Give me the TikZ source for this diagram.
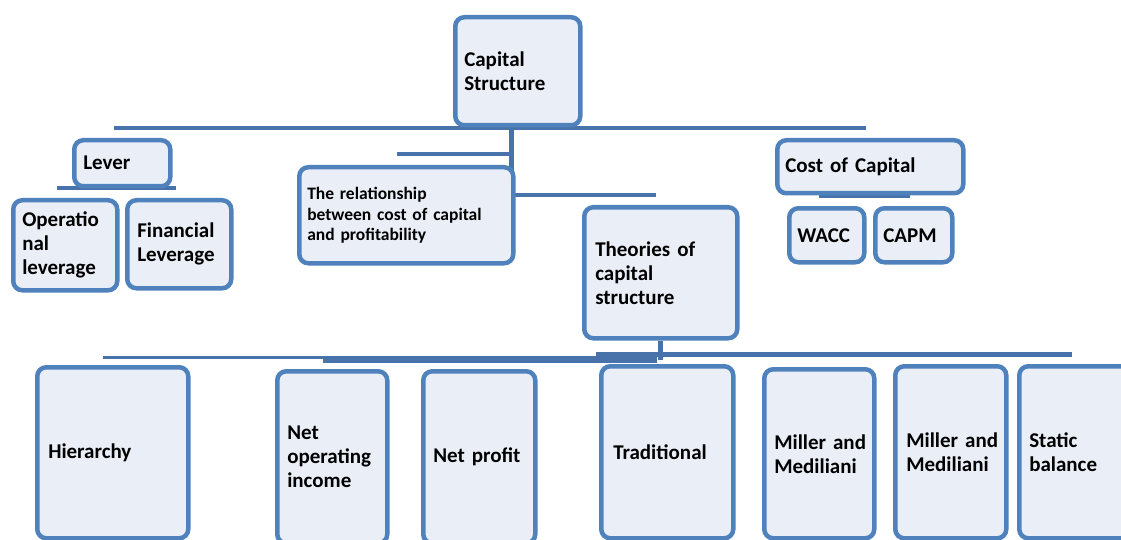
\documentclass[tikz,border=0pt]{standalone}
\usepackage{fontspec}
\setmainfont{Carlito}[WordSpace=0.85]
\usetikzlibrary{positioning,backgrounds}

\definecolor{boxblue}{RGB}{79,129,189}
\definecolor{boxfill}{RGB}{234,239,247}
\definecolor{linkblue}{RGB}{72,114,170}

\tikzset{
  box/.style={draw=boxblue, fill=boxfill, line width=4.5pt, rounded corners=9pt,
    anchor=north west, align=left, inner ysep=0pt,
    font=\bfseries\fontsize{21}{24}\selectfont},
  smallbox/.style={box, font=\bfseries\fontsize{17.5}{20.5}\selectfont},
  link/.style={draw=linkblue, line width=4.5pt},
}

\begin{document}
\begin{tikzpicture}[x=1pt,y=-1pt]
  \useasboundingbox (0,0) rectangle (1121,540);
  \clip (0,0) rectangle (1121,540);

  % top
  \node[box, text width=107pt, inner xsep=9pt, minimum height=108pt] (cap) at (453,15) {Capital\\Structure};

  % lever branch
  \node[box, text width=78pt, inner xsep=9pt, minimum height=46pt] (lev) at (72,138) {Lever};
  \node[box, text width=86pt, inner xsep=9pt, minimum height=90pt] (oper) at (11,198) {Operatio\\nal\\leverage};
  \node[box, text width=84pt, inner xsep=10pt, minimum height=88pt] (fin) at (125,198) {Financial\\Leverage};

  % middle
  \node[smallbox, text width=198pt, inner xsep=8pt, minimum height=96pt] (rel) at (297,165) {The relationship\\between~cost~of~capital\\and profitability};
  \node[box, text width=131pt, inner xsep=11pt, minimum height=131pt] (theo) at (582,205) {Theories~of\\capital\\structure};

  % cost of capital branch
  \node[box, text width=170pt, inner xsep=8pt, minimum height=53pt] (coc) at (775,138) {Cost~of~Capital};
  \node[box, text width=59pt, inner xsep=8pt, minimum height=54pt] (wacc) at (787,206) {WACC};
  \node[box, text width=61pt, inner xsep=8pt, minimum height=54pt] (capm) at (873,206) {CAPM};

  % theories
  \node[box, text width=129pt, inner xsep=11pt, minimum height=171pt] (hier) at (35,365) {Hierarchy};
  \node[box, text width=90pt, inner xsep=10pt, minimum height=172pt] (noi) at (275,369) {Net\\operating\\income};
  \node[box, text width=92pt, inner xsep=10pt, minimum height=172pt] (np) at (421,369) {Net~profit};
  \node[box, text width=108pt, inner xsep=12pt, minimum height=172pt] (trad) at (599,364) {Traditional};
  \node[box, text width=90pt, inner xsep=10pt, minimum height=169pt] (mm1) at (762,367) {Miller~and\\Mediliani};
  \node[box, text width=89pt, inner xsep=11pt, minimum height=172pt] (mm2) at (893,364) {Miller~and\\Mediliani};
  \node[box, text width=93pt, inner xsep=10pt, minimum height=172pt] (stat) at (1017,364) {Static\\balance};

  \begin{scope}[on background layer]
    \coordinate (topL) at (114,128);
    \coordinate (topR) at (866,128);
    \coordinate (hub) at (511,128);
    \coordinate (stubL) at (397,154);
    \coordinate (midL) at (511,195);
    \coordinate (midR) at (656,195);
    \coordinate (levL) at (57,188);
    \coordinate (levR) at (176,188);
    \coordinate (cocL) at (819,196);
    \coordinate (cocR) at (910,196);
    \coordinate (botL) at (103,357.5);
    \coordinate (botM) at (323,359.5);
    \coordinate (botN) at (657,359.5);
    \coordinate (botS) at (596,354);
    \coordinate (botR) at (1072,354);

    \draw[link] (topL) -- (topR);
    \draw[link, line width=5pt] (cap.south -| hub) -- (hub) -- (midL);
    \draw[link] (stubL) -- (stubL -| hub);
    \draw[link] (midL) -- (midR);

    \draw[link] (levL) -- (levR);
    \draw[link, line width=6pt] (lev.south) -- (lev.south |- levL);

    \draw[link] (cocL) -- (cocR);
    \draw[link, line width=6pt] (coc.south) -- (coc.south |- cocL);

    \draw[link, line width=5pt] (theo.south) -- (theo.south |- botN);
    \draw[link, line width=3.5pt] (botL) -- (botL -| botM);
    \draw[link, line width=7pt] (botM) -- (botN);
    \draw[link, line width=5pt] (botS) -- (botR);
  \end{scope}
\end{tikzpicture}
\end{document}
